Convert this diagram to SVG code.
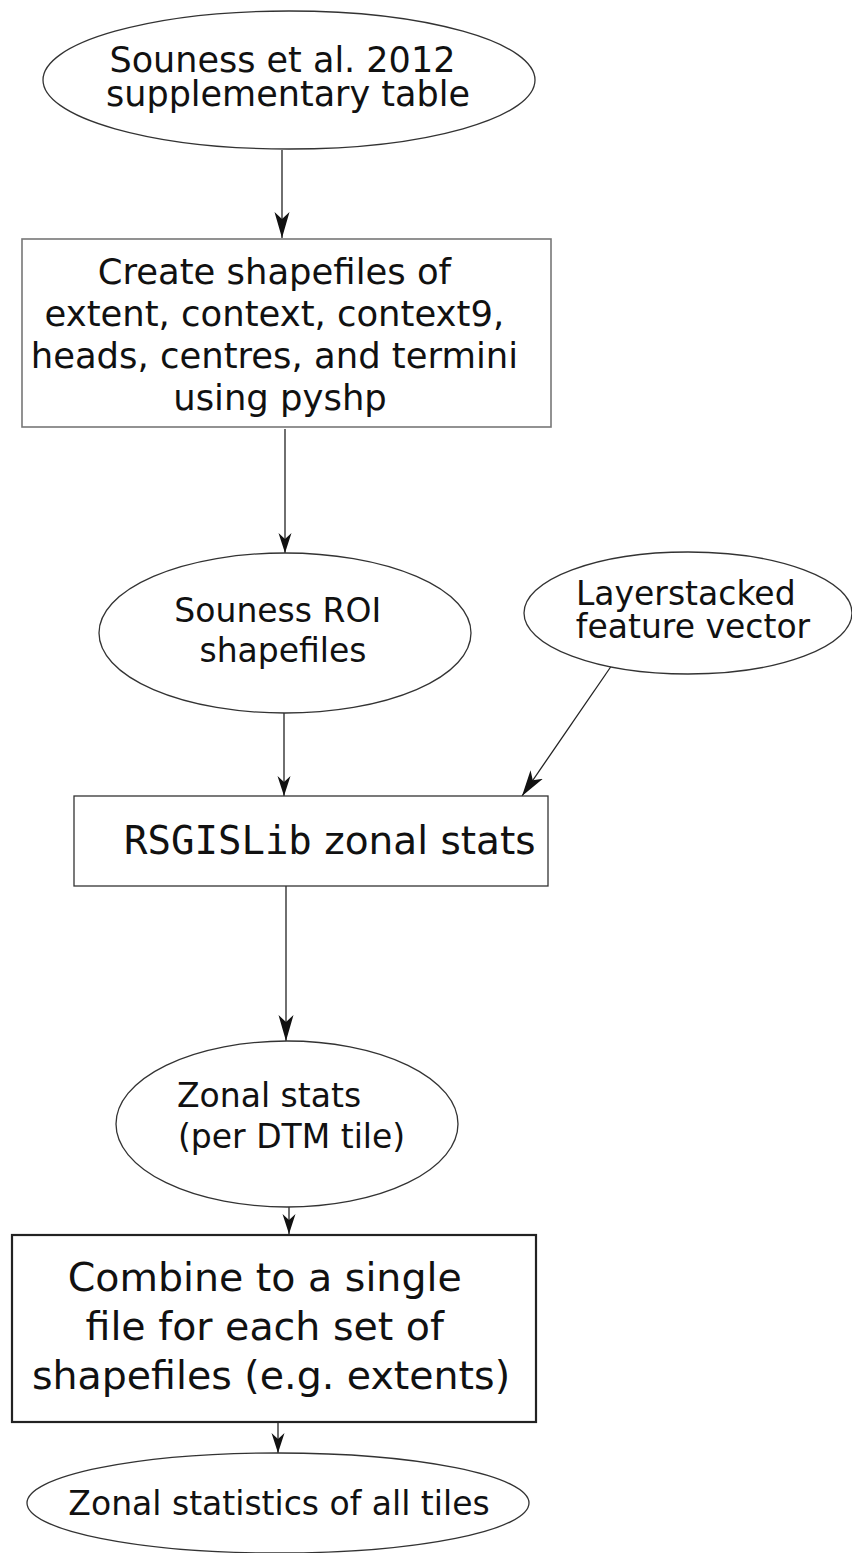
<svg xmlns="http://www.w3.org/2000/svg" width="852" height="1553" viewBox="0 0 852 1553">
<style>
  .shape { fill: #ffffff; stroke: #333333; stroke-width: 1.3; }
  .box1 { fill: #ffffff; stroke: #777777; stroke-width: 1.6; }
  .box3 { fill: #ffffff; stroke: #222222; stroke-width: 2.2; }
  .t { font-family: "DejaVu Sans", "Liberation Sans", sans-serif; fill: #111111; }
  .mono { font-family: "DejaVu Sans Mono", "Liberation Mono", monospace; }
  .edge { fill: none; stroke: #222222; stroke-width: 1.3; }
</style>
<defs>
  <marker id="ah" markerUnits="userSpaceOnUse" markerWidth="30" markerHeight="30" refX="26" refY="8" orient="auto">
    <path d="M26,8 L0,0.5 L7,8 L0,15.5 Z" fill="#111111"/>
  </marker>
  <marker id="ahs" markerUnits="userSpaceOnUse" markerWidth="26" markerHeight="20" refX="20" refY="7" orient="auto">
    <path d="M20,7 L0,0.5 L6,7 L0,13.5 Z" fill="#111111"/>
  </marker>
</defs>
<rect width="852" height="1553" fill="#ffffff"/>

<g id="connectors">
  <line class="edge" x1="282" y1="150" x2="282" y2="238" marker-end="url(#ah)"/>
  <line class="edge" x1="285" y1="429" x2="285" y2="553" marker-end="url(#ahs)"/>
  <line class="edge" x1="284" y1="713" x2="284" y2="796" marker-end="url(#ahs)"/>
  <line class="edge" x1="612" y1="665" x2="522" y2="796" marker-end="url(#ah)"/>
  <line class="edge" x1="286" y1="886" x2="286" y2="1041" marker-end="url(#ah)"/>
  <line class="edge" x1="289" y1="1207" x2="289" y2="1234" marker-end="url(#ahs)"/>
  <line class="edge" x1="278" y1="1423" x2="278" y2="1453" marker-end="url(#ahs)"/>
</g>

<g id="node-souness-table">
  <ellipse class="shape" cx="289" cy="80" rx="246" ry="69"/>
  <text class="t" font-size="35" text-anchor="middle">
    <tspan x="288" y="72">Souness et al. 2012</tspan>
    <tspan x="288" y="106">supplementary table</tspan>
  </text>
</g>

<g id="node-create-shapefiles">
  <rect class="box1" x="22" y="239" width="529" height="188"/>
  <text class="t" font-size="35.4" text-anchor="middle">
    <tspan x="280" y="284">Create shapefiles of</tspan>
    <tspan x="280" y="326">extent, context, context9,</tspan>
    <tspan x="280" y="368">heads, centres, and termini</tspan>
    <tspan x="280" y="410">using pyshp</tspan>
  </text>
</g>

<g id="node-roi-shapefiles">
  <ellipse class="shape" cx="285" cy="633" rx="186" ry="80"/>
  <text class="t" font-size="33" text-anchor="middle">
    <tspan x="283" y="622">Souness ROI</tspan>
    <tspan x="283" y="662">shapefiles</tspan>
  </text>
</g>

<g id="node-feature-vector">
  <ellipse class="shape" cx="688" cy="613" rx="164" ry="61"/>
  <text class="t" font-size="33" text-anchor="middle">
    <tspan x="691" y="605">Layerstacked</tspan>
    <tspan x="693" y="638">feature vector</tspan>
  </text>
</g>

<g id="node-zonal-stats-tool">
  <rect class="shape" x="74" y="796" width="474" height="90"/>
  <text class="t" font-size="39" x="124" y="854"><tspan class="mono">RSGISLib</tspan> zonal stats</text>
</g>

<g id="node-zonal-per-tile">
  <ellipse class="shape" cx="287" cy="1124" rx="171" ry="83"/>
  <text class="t" font-size="33">
    <tspan x="177" y="1107">Zonal stats</tspan>
    <tspan x="178" y="1148">(per DTM tile)</tspan>
  </text>
</g>

<g id="node-combine">
  <rect class="box3" x="12" y="1235" width="524" height="187"/>
  <text class="t" font-size="39.5" text-anchor="middle">
    <tspan x="271" y="1291">Combine to a single</tspan>
    <tspan x="271" y="1340">file for each set of</tspan>
    <tspan x="271" y="1389">shapefiles (e.g. extents)</tspan>
  </text>
</g>

<g id="node-all-tiles">
  <ellipse class="shape" cx="278" cy="1503" rx="251" ry="50"/>
  <text class="t" font-size="33" text-anchor="middle" x="279" y="1515">Zonal statistics of all tiles</text>
</g>
</svg>
